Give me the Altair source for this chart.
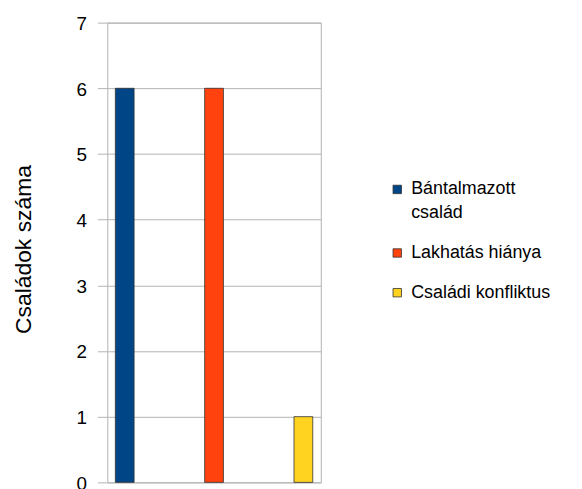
import altair as alt
import pandas as pd

series = ["Bántalmazott család", "Lakhatás hiánya", "Családi konfliktus"]
values = [6, 6, 1]
colors = ["#004586", "#ff420e", "#ffd320"]
y_ticks = [0, 1, 2, 3, 4, 5, 6, 7]

df = pd.DataFrame({"series": series, "value": values})

chart = alt.Chart(df).mark_bar(stroke="#333333", strokeWidth=0.8).encode(
    x=alt.X("series:N", sort=series,
            scale=alt.Scale(paddingInner=0.79, paddingOuter=0.09),
            axis=None),
    y=alt.Y("value:Q", scale=alt.Scale(domain=[0, 7], nice=False),
            axis=alt.Axis(values=y_ticks, title="Családok száma",
                          domain=False, grid=True, gridColor="#b3b3b3",
                          tickColor="#b3b3b3", tickSize=10,
                          labelFontSize=19, labelPadding=11, labelOffset=1,
                          labelColor="#000000",
                          titleFontSize=23, titleFontWeight="normal",
                          titleColor="#000000", titlePadding=41, titleY=228)),
    color=alt.Color("series:N", sort=series,
                    scale=alt.Scale(domain=series, range=colors),
                    legend=alt.Legend(title=None, orient="none",
                                      legendX=283, legendY=159,
                                      symbolType="square", symbolSize=72,
                                      symbolStrokeColor="#333333",
                                      symbolStrokeWidth=0.8,
                                      labelFontSize=18, labelColor="#000000",
                                      labelOffset=5, labelLimit=300,
                                      rowPadding=22, padding=0,
                                      labelExpr="datum.label == 'Bántalmazott család' ? ['Bántalmazott', 'család'] : datum.label")),
).properties(
    width=215, height=463,
    autosize=alt.AutoSizeParams(type="none"),
    padding={"left": 100, "top": 13, "right": 255, "bottom": 10},
).configure(
    font="Liberation Sans",
    style={"guide-label": {"lineHeight": 24}},
).configure_view(
    stroke="#b3b3b3", strokeWidth=1,
)

chart.save("out.html", embed_options={"renderer": "svg", "actions": False})
